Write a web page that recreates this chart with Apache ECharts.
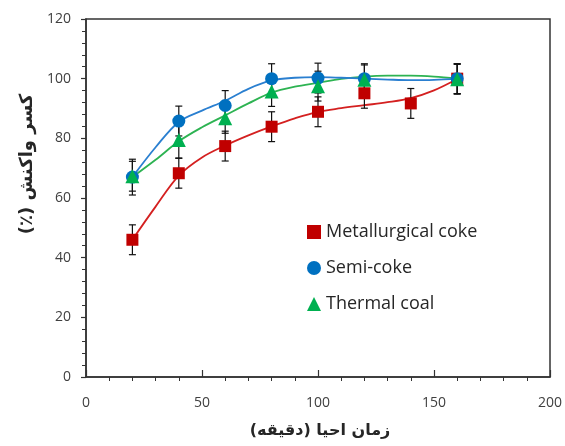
<!DOCTYPE html>
<html>
<head>
<meta charset="utf-8">
<script src="https://cdn.jsdelivr.net/npm/echarts@6/dist/echarts.min.js"></script>
<style>
  html, body { margin: 0; padding: 0; background: #fff; }
  #chart { width: 565px; height: 446px; }
</style>
</head>
<body>
<div id="chart"></div>
<script>
// Reduction time (minutes) at which samples were measured
const timeMetallurgical = [20, 40, 60, 80, 100, 120, 140, 160];
const timeSemiCoke      = [20, 40, 60, 80, 100, 120, 160];
const timeThermal       = [20, 40, 60, 80, 100, 120, 160];

// Measured reaction fraction (%)
const metallurgicalCoke = [46, 68.3, 77.4, 83.9, 88.9, 95.1, 91.7, 100];
const semiCoke          = [67, 85.8, 91, 100, 100.2, 100, 100];
const thermalCoal       = [67.3, 79.4, 86.7, 95.7, 97.5, 99.6, 99.8];

// Half-width of error bars (%)
const errMetallurgical = [5, 5, 5, 5, 5, 5, 5, 5];
const errSemiCoke      = [6, 5, 5, 5, 5, 5, 5];
const errThermal       = [5, 6, 5, 5, 5, 5, 5];

// Fitted trend curves
const fitTime          = [20, 30, 40, 50, 60, 70, 80, 90, 100, 110, 120, 130, 140, 150, 160];
const fitMetallurgical = [46, 57.1, 67.5, 73.6, 77.6, 81, 84, 86.7, 88.9, 90.1, 91.1, 92.1, 93.5, 96.1, 99.9];
const fitSemiCoke      = [67, 77, 85.5, 89.3, 92.6, 96.6, 99.4, 100.3, 100.5, 100.3, 100, 99.7, 99.5, 99.6, 100];
const fitThermal       = [67, 72.8, 79, 83.7, 87.7, 91.7, 95.3, 97.3, 98.6, 99.9, 100.7, 101, 101, 100.7, 100];

// Axis tick values
const xTicks = [0, 50, 100, 150, 200];
const yTicks = [0, 20, 40, 60, 80, 100, 120];

const names = ['Metallurgical coke', 'Semi-coke', 'Thermal coal'];
const colors = ['#C00000', '#0070C0', '#00B050'];
const lineColors = ['#D42020', '#2A7FD0', '#2DB352'];

const zip = (xs, ys) => xs.map((x, i) => [x, ys[i]]);
const bars = (xs, ys, es) => xs.map((x, i) => [x, ys[i] - es[i], ys[i] + es[i]]);

function errorBarSeries(data) {
  return {
    type: 'custom',
    z: 3,
    silent: true,
    data: data,
    renderItem: function (params, api) {
      const x = api.value(0);
      const lo = api.coord([x, api.value(1)]);
      const hi = api.coord([x, api.value(2)]);
      const cap = 3.5;
      const style = { stroke: '#111', lineWidth: 1.2 };
      return {
        type: 'group',
        children: [
          { type: 'line', shape: { x1: lo[0], y1: lo[1], x2: hi[0], y2: hi[1] }, style: style },
          { type: 'line', shape: { x1: lo[0] - cap, y1: lo[1], x2: lo[0] + cap, y2: lo[1] }, style: style },
          { type: 'line', shape: { x1: hi[0] - cap, y1: hi[1], x2: hi[0] + cap, y2: hi[1] }, style: style }
        ]
      };
    }
  };
}

function fitSeries(values, color) {
  return {
    type: 'line',
    data: zip(fitTime, values),
    smooth: 0.35,
    showSymbol: false,
    silent: true,
    z: 2,
    lineStyle: { color: color, width: 1.8 }
  };
}

function pointSeries(name, xs, ys, symbol, size, color) {
  return {
    name: name,
    type: 'scatter',
    data: zip(xs, ys),
    symbol: symbol,
    symbolSize: size,
    itemStyle: { color: color, opacity: 1 },
    z: 4
  };
}

const chart = echarts.init(document.getElementById('chart'), null, { renderer: 'canvas' });

const axisFont = { fontFamily: 'Open Sans', fontSize: 14, color: '#404040' };
const titleFont = { fontFamily: 'DejaVu Sans', fontWeight: 'bold', color: '#262626' };
// right-to-left embedding so the Persian titles keep their reading order
const rtl = s => '\u202B' + s + '\u202C';

chart.setOption({
  animation: false,
  backgroundColor: '#fff',
  grid: {
    left: 86, right: 15, top: 19, bottom: 69,
    outerBoundsMode: 'none',
    containLabel: false,
    show: true, borderColor: '#333', borderWidth: 1.5, backgroundColor: 'transparent'
  },
  legend: {
    orient: 'vertical',
    left: 302,
    top: 218,
    itemWidth: 14,
    itemHeight: 14,
    itemGap: 18,
    textStyle: { fontFamily: 'Open Sans', fontSize: 18, color: '#262626' },
    data: [
      { name: names[0], icon: 'rect' },
      { name: names[1], icon: 'circle' },
      { name: names[2], icon: 'triangle' }
    ]
  },
  xAxis: [{
    type: 'value',
    min: xTicks[0], max: xTicks[xTicks.length - 1], interval: 50,
    name: rtl('زمان احیا (دقیقه)'),
    nameLocation: 'middle',
    nameGap: 46,
    nameMoveOverlap: false,
    nameTextStyle: Object.assign({ fontSize: 16, padding: [0, 0, 0, 4] }, titleFont),
    axisLine: { lineStyle: { color: '#333', width: 1.5 } },
    axisTick: { show: true, inside: true, length: 7, lineStyle: { color: '#333', width: 1.2 } },
    axisLabel: Object.assign({ margin: 19 }, axisFont),
    splitLine: { show: false }
  }, {
    // minor ticks hang below the axis
    type: 'value',
    position: 'bottom',
    min: xTicks[0], max: xTicks[xTicks.length - 1], interval: 50,
    axisLine: { show: false },
    axisLabel: { show: false },
    axisTick: { show: false, inside: false },
    minorTick: { show: true, splitNumber: 5, length: 4, lineStyle: { color: '#333', width: 1 } },
    splitLine: { show: false }
  }],
  yAxis: {
    type: 'value',
    min: yTicks[0], max: yTicks[yTicks.length - 1], interval: 20,
    name: rtl('کسر واکنش (٪)'),
    nameLocation: 'middle',
    nameGap: 50,
    nameMoveOverlap: false,
    nameRotate: 90,
    nameTextStyle: Object.assign({ fontSize: 18, padding: [0, 0, 0, 68] }, titleFont),
    axisLine: { show: true, lineStyle: { color: '#333', width: 1.5 } },
    axisTick: { show: true, inside: false, length: 5, lineStyle: { color: '#333', width: 1.2 } },
    minorTick: { show: true, splitNumber: 5, length: 4, lineStyle: { color: '#333', width: 1 } },
    axisLabel: Object.assign({ margin: 15 }, axisFont),
    splitLine: { show: false }
  },
  series: [
    fitSeries(fitMetallurgical, lineColors[0]),
    fitSeries(fitThermal, lineColors[2]),
    fitSeries(fitSemiCoke, lineColors[1]),
    errorBarSeries(bars(timeMetallurgical, metallurgicalCoke, errMetallurgical)),
    errorBarSeries(bars(timeSemiCoke, semiCoke, errSemiCoke)),
    errorBarSeries(bars(timeThermal, thermalCoal, errThermal)),
    pointSeries(names[0], timeMetallurgical, metallurgicalCoke, 'rect', 12, colors[0]),
    pointSeries(names[1], timeSemiCoke, semiCoke, 'circle', 13, colors[1]),
    pointSeries(names[2], timeThermal, thermalCoal, 'triangle', 14, colors[2])
  ]
});
</script>
</body>
</html>
